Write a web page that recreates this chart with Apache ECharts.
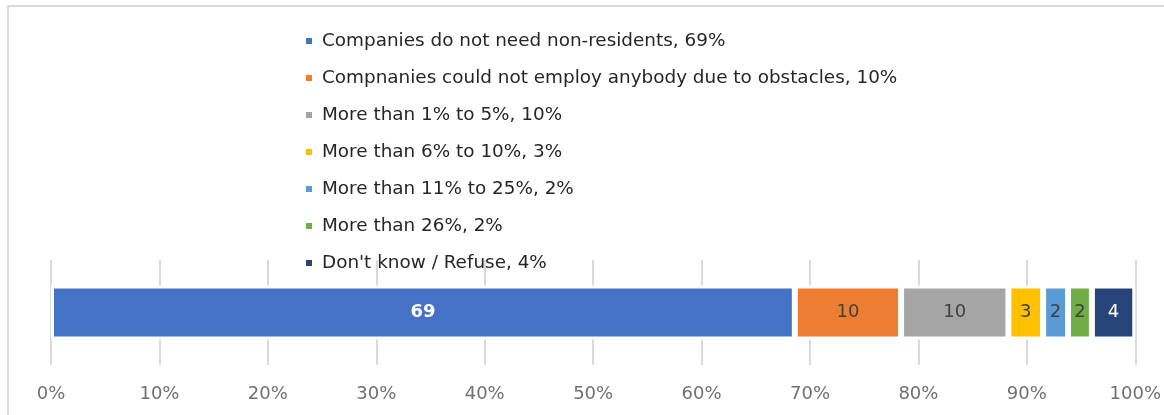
<!DOCTYPE html>
<html>
<head>
<meta charset="utf-8">
<script src="https://cdn.jsdelivr.net/npm/echarts@6/dist/echarts.min.js"></script>
<style>
html,body{margin:0;padding:0;background:#fff;}
#c{width:1164px;height:415px;}
</style>
</head>
<body>
<div id="c"></div>
<script>
var categories = ['Total'];
var seriesNames = [
  'Companies do not need non-residents, 69%',
  'Compnanies could not employ anybody due to obstacles, 10%',
  'More than 1% to 5%, 10%',
  'More than 6% to 10%, 3%',
  'More than 11% to 25%, 2%',
  'More than 26%, 2%',
  "Don't know / Refuse, 4%"
];
var seriesValues = [68.6, 9.8, 9.9, 3.2, 2.3, 2.2, 4.0];
var seriesColors = ['#4472C4', '#ED7D31', '#A5A5A5', '#FFC000', '#5B9BD5', '#70AD47', '#264478'];
var labelColors = ['#ffffff', '#404040', '#404040', '#404040', '#404040', '#404040', '#ffffff'];
var tickLabels = ['0%','10%','20%','30%','40%','50%','60%','70%','80%','90%','100%'];

var FONT = '"DejaVu Sans", sans-serif';

var series = seriesNames.map(function (name, i) {
  return {
    name: name,
    type: 'bar',
    stack: 'total',
    barWidth: 54,
    data: [seriesValues[i]],
    itemStyle: { color: seriesColors[i], borderColor: '#ffffff', borderWidth: 3 },
    label: {
      show: true,
      position: 'inside',
      color: labelColors[i],
      fontFamily: FONT,
      fontSize: 18,
      fontWeight: i === 0 ? 'bold' : 'normal',
      formatter: function (p) { return Math.round(p.value); }
    },
    emphasis: { disabled: true }
  };
});

var chart = echarts.init(document.getElementById('c'));
chart.setOption({
  animation: false,
  backgroundColor: '#ffffff',
  graphic: [{
    type: 'rect',
    shape: { x: 8, y: 6, width: 1200, height: 500 },
    style: { fill: 'none', stroke: '#d9d9d9', lineWidth: 2 },
    silent: true
  }],
  legend: {
    orient: 'vertical',
    left: 304,
    top: 31,
    padding: 0,
    icon: 'rect',
    itemWidth: 8,
    itemHeight: 8,
    itemGap: 17,
    textStyle: { fontFamily: FONT, fontSize: 18.4, color: '#262626', lineHeight: 20, padding: [0, 0, 0, 4] },
    data: seriesNames
  },
  grid: { left: 51, right: 28, top: 260, bottom: 50, containLabel: false },
  xAxis: {
    type: 'value',
    min: 0,
    max: 100,
    interval: 10,
    axisLine: { show: false },
    axisTick: { show: false },
    splitLine: { show: true, lineStyle: { color: '#d9d9d9', width: 2 } },
    axisLabel: {
      margin: 20,
      color: '#707070',
      fontFamily: FONT,
      fontSize: 18,
      formatter: function (v) { return tickLabels[Math.round(v / 10)]; }
    }
  },
  yAxis: {
    type: 'category',
    data: categories,
    axisLine: { show: false },
    axisTick: { show: false },
    axisLabel: { show: false }
  },
  series: series
});
</script>
</body>
</html>
